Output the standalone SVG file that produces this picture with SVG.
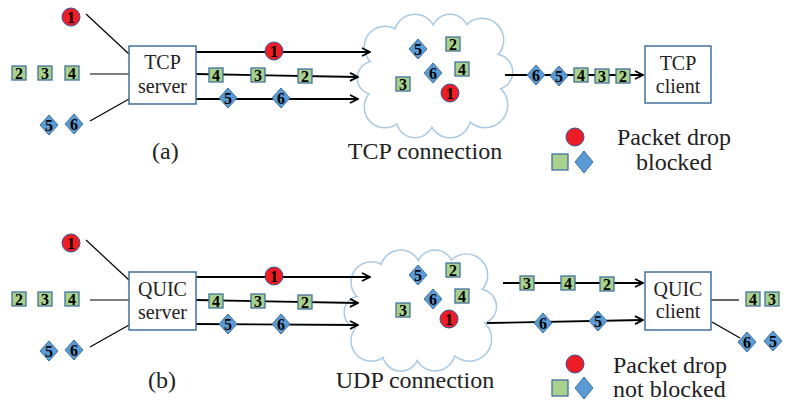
<svg xmlns="http://www.w3.org/2000/svg" xmlns:xlink="http://www.w3.org/1999/xlink" width="786" height="403" viewBox="0 0 786 403">
  <style>
    .box { fill: #ffffff; stroke: #41719c; stroke-width: 1.5; }
    .boxtxt { font-family: "Liberation Serif", "Times New Roman", serif; font-size: 20px; fill: #222; text-anchor: middle; }
    .cap { font-family: "Liberation Serif", "Times New Roman", serif; font-size: 24px; fill: #222; }
    .num { font-family: "Liberation Serif", "Times New Roman", serif; font-size: 16px; font-weight: bold; fill: #000; text-anchor: middle; }
    .sq { fill: #a9d18e; stroke: #41719c; stroke-width: 1.3; }
    .dm { fill: #5b9bd5; stroke: #41719c; stroke-width: 1; }
    .rd { fill: #ee1c25; stroke: #2f5597; stroke-width: 1; }
    .feed { fill: none; stroke: #000; stroke-width: 1.2; }
    .flow-arrow { fill: none; stroke: #000; stroke-width: 1.8; marker-end: url(#open); }
    .cloud-edge { fill: none; stroke: #a9c9e3; stroke-width: 3; }
    .cloud-fill { fill: #ffffff; stroke: none; }
  </style>
  <defs>
    <marker id="open" viewBox="0 0 10 10" refX="9" refY="5" markerWidth="10" markerHeight="10" markerUnits="userSpaceOnUse" orient="auto">
      <path d="M1,1 L9,5 L1,9" fill="none" stroke="#000" stroke-width="1.8"/>
    </marker>
    <rect id="sq" class="sq" x="-7" y="-7" width="14" height="14"/>
    <path id="dm" class="dm" d="M0,-10 L9,0 L0,10 L-9,0 Z"/>
    <circle id="rd" class="rd" r="9"/>
    <!-- overlapping discs whose union forms the cloud outline -->
    <g id="bumps">
      <circle cx="385" cy="47" r="20"/>
      <circle cx="415" cy="35" r="20"/>
      <circle cx="450" cy="33" r="18"/>
      <circle cx="482" cy="40" r="21"/>
      <circle cx="495" cy="72" r="17"/>
      <circle cx="485" cy="105" r="22"/>
      <circle cx="450" cy="117" r="20"/>
      <circle cx="415" cy="119" r="18"/>
      <circle cx="385" cy="107" r="20"/>
      <circle cx="374" cy="78" r="16"/>
      <ellipse cx="436" cy="76" rx="60" ry="48"/>
    </g>
  </defs>

  <!-- clouds -->
  <g id="tcp-cloud">
    <use xlink:href="#bumps" href="#bumps" class="cloud-edge"/>
    <use xlink:href="#bumps" href="#bumps" class="cloud-fill"/>
  </g>
  <g id="udp-cloud" transform="translate(-6,236) scale(0.98)">
    <use xlink:href="#bumps" href="#bumps" class="cloud-edge"/>
    <use xlink:href="#bumps" href="#bumps" class="cloud-fill"/>
  </g>

  <!-- connectors -->
  <g id="connectors">
    <!-- (a) -->
    <line class="feed" x1="86" y1="14" x2="129" y2="54"/>
    <line class="feed" x1="90" y1="74" x2="129" y2="74"/>
    <line class="feed" x1="90" y1="121" x2="129" y2="99"/>
    <line class="flow-arrow" x1="196" y1="52" x2="370" y2="52"/>
    <line class="flow-arrow" x1="196" y1="74" x2="358" y2="77"/>
    <line class="flow-arrow" x1="196" y1="99" x2="358" y2="99"/>
    <line class="flow-arrow" x1="505" y1="75" x2="643" y2="75"/>
    <!-- (b) -->
    <line class="feed" x1="86" y1="240" x2="129" y2="280"/>
    <line class="feed" x1="90" y1="300" x2="129" y2="300"/>
    <line class="feed" x1="90" y1="347" x2="129" y2="325"/>
    <line class="flow-arrow" x1="196" y1="277" x2="370" y2="277"/>
    <line class="flow-arrow" x1="196" y1="300" x2="358" y2="303"/>
    <line class="flow-arrow" x1="196" y1="324" x2="358" y2="325"/>
    <line class="flow-arrow" x1="503" y1="283" x2="643" y2="283"/>
    <line class="flow-arrow" x1="487" y1="323" x2="643" y2="320"/>
    <line class="feed" x1="711" y1="300" x2="739" y2="300"/>
    <line class="feed" x1="712" y1="322" x2="740" y2="338"/>
  </g>

  <!-- endpoints -->
  <g id="tcp-server">
    <rect class="box" x="129" y="46" width="67" height="58"/>
    <text class="boxtxt" x="162.5" y="69">TCP</text>
    <text class="boxtxt" x="162.5" y="93">server</text>
  </g>
  <g id="tcp-client">
    <rect class="box" x="645" y="46" width="66" height="57"/>
    <text class="boxtxt" x="678" y="70">TCP</text>
    <text class="boxtxt" x="678" y="93">client</text>
  </g>
  <g id="quic-server">
    <rect class="box" x="129" y="272" width="67" height="58"/>
    <text class="boxtxt" x="162.5" y="296">QUIC</text>
    <text class="boxtxt" x="162.5" y="319">server</text>
  </g>
  <g id="quic-client">
    <rect class="box" x="645" y="272" width="66" height="58"/>
    <text class="boxtxt" x="678" y="296">QUIC</text>
    <text class="boxtxt" x="678" y="318">client</text>
  </g>

  <!-- packets, (a) -->
  <g id="packets-a">
    <g transform="translate(71,17)"><use href="#rd" xlink:href="#rd"/><text class="num" y="5.5">1</text></g>
    <g transform="translate(19,73)"><use href="#sq" xlink:href="#sq"/><text class="num" y="5.5">2</text></g>
    <g transform="translate(45,73)"><use href="#sq" xlink:href="#sq"/><text class="num" y="5.5">3</text></g>
    <g transform="translate(72,73)"><use href="#sq" xlink:href="#sq"/><text class="num" y="5.5">4</text></g>
    <g transform="translate(49,125)"><use href="#dm" xlink:href="#dm"/><text class="num" y="5.5">5</text></g>
    <g transform="translate(74,124)"><use href="#dm" xlink:href="#dm"/><text class="num" y="5.5">6</text></g>

    <g transform="translate(274,51)"><use href="#rd" xlink:href="#rd"/><text class="num" y="5.5">1</text></g>
    <g transform="translate(216,75)"><use href="#sq" xlink:href="#sq"/><text class="num" y="5.5">4</text></g>
    <g transform="translate(258,75)"><use href="#sq" xlink:href="#sq"/><text class="num" y="5.5">3</text></g>
    <g transform="translate(305,76)"><use href="#sq" xlink:href="#sq"/><text class="num" y="5.5">2</text></g>
    <g transform="translate(228,98)"><use href="#dm" xlink:href="#dm"/><text class="num" y="5.5">5</text></g>
    <g transform="translate(281,98)"><use href="#dm" xlink:href="#dm"/><text class="num" y="5.5">6</text></g>

    <g transform="translate(418,49)"><use href="#dm" xlink:href="#dm"/><text class="num" y="5.5">5</text></g>
    <g transform="translate(453,44)"><use href="#sq" xlink:href="#sq"/><text class="num" y="5.5">2</text></g>
    <g transform="translate(433,73)"><use href="#dm" xlink:href="#dm"/><text class="num" y="5.5">6</text></g>
    <g transform="translate(462,69)"><use href="#sq" xlink:href="#sq"/><text class="num" y="5.5">4</text></g>
    <g transform="translate(403,84)"><use href="#sq" xlink:href="#sq"/><text class="num" y="5.5">3</text></g>
    <g transform="translate(450,93)"><use href="#rd" xlink:href="#rd"/><text class="num" y="5.5">1</text></g>

    <g transform="translate(536,75)"><use href="#dm" xlink:href="#dm"/><text class="num" y="5.5">6</text></g>
    <g transform="translate(559,76)"><use href="#dm" xlink:href="#dm"/><text class="num" y="5.5">5</text></g>
    <g transform="translate(581,75)"><use href="#sq" xlink:href="#sq"/><text class="num" y="5.5">4</text></g>
    <g transform="translate(602,76)"><use href="#sq" xlink:href="#sq"/><text class="num" y="5.5">3</text></g>
    <g transform="translate(623,76)"><use href="#sq" xlink:href="#sq"/><text class="num" y="5.5">2</text></g>
  </g>

  <!-- packets, (b) -->
  <g id="packets-b">
    <g transform="translate(71,243)"><use href="#rd" xlink:href="#rd"/><text class="num" y="5.5">1</text></g>
    <g transform="translate(19,299)"><use href="#sq" xlink:href="#sq"/><text class="num" y="5.5">2</text></g>
    <g transform="translate(45,299)"><use href="#sq" xlink:href="#sq"/><text class="num" y="5.5">3</text></g>
    <g transform="translate(72,299)"><use href="#sq" xlink:href="#sq"/><text class="num" y="5.5">4</text></g>
    <g transform="translate(49,351)"><use href="#dm" xlink:href="#dm"/><text class="num" y="5.5">5</text></g>
    <g transform="translate(74,350)"><use href="#dm" xlink:href="#dm"/><text class="num" y="5.5">6</text></g>

    <g transform="translate(274,276)"><use href="#rd" xlink:href="#rd"/><text class="num" y="5.5">1</text></g>
    <g transform="translate(216,301)"><use href="#sq" xlink:href="#sq"/><text class="num" y="5.5">4</text></g>
    <g transform="translate(258,301)"><use href="#sq" xlink:href="#sq"/><text class="num" y="5.5">3</text></g>
    <g transform="translate(305,302)"><use href="#sq" xlink:href="#sq"/><text class="num" y="5.5">2</text></g>
    <g transform="translate(228,324)"><use href="#dm" xlink:href="#dm"/><text class="num" y="5.5">5</text></g>
    <g transform="translate(281,324)"><use href="#dm" xlink:href="#dm"/><text class="num" y="5.5">6</text></g>

    <g transform="translate(418,275)"><use href="#dm" xlink:href="#dm"/><text class="num" y="5.5">5</text></g>
    <g transform="translate(453,270)"><use href="#sq" xlink:href="#sq"/><text class="num" y="5.5">2</text></g>
    <g transform="translate(433,299)"><use href="#dm" xlink:href="#dm"/><text class="num" y="5.5">6</text></g>
    <g transform="translate(462,296)"><use href="#sq" xlink:href="#sq"/><text class="num" y="5.5">4</text></g>
    <g transform="translate(403,310)"><use href="#sq" xlink:href="#sq"/><text class="num" y="5.5">3</text></g>
    <g transform="translate(449,319)"><use href="#rd" xlink:href="#rd"/><text class="num" y="5.5">1</text></g>

    <g transform="translate(527,283)"><use href="#sq" xlink:href="#sq"/><text class="num" y="5.5">3</text></g>
    <g transform="translate(568,283)"><use href="#sq" xlink:href="#sq"/><text class="num" y="5.5">4</text></g>
    <g transform="translate(607,284)"><use href="#sq" xlink:href="#sq"/><text class="num" y="5.5">2</text></g>
    <g transform="translate(543,323)"><use href="#dm" xlink:href="#dm"/><text class="num" y="5.5">6</text></g>
    <g transform="translate(598,321)"><use href="#dm" xlink:href="#dm"/><text class="num" y="5.5">5</text></g>

    <g transform="translate(753,299)"><use href="#sq" xlink:href="#sq"/><text class="num" y="5.5">4</text></g>
    <g transform="translate(772,299)"><use href="#sq" xlink:href="#sq"/><text class="num" y="5.5">3</text></g>
    <g transform="translate(747,342)"><use href="#dm" xlink:href="#dm"/><text class="num" y="5.5">6</text></g>
    <g transform="translate(773,341)"><use href="#dm" xlink:href="#dm"/><text class="num" y="5.5">5</text></g>
  </g>

  <!-- legends -->
  <g id="legend-a">
    <circle class="rd" cx="575" cy="137" r="9"/>
    <rect class="sq" x="552" y="154" width="16" height="16"/>
    <path class="dm" d="M584,151 L593,162 L584,173 L575,162 Z"/>
    <text class="cap" x="617" y="145">Packet drop</text>
    <text class="cap" x="674" y="170" text-anchor="middle">blocked</text>
  </g>
  <g id="legend-b">
    <circle class="rd" cx="575" cy="364" r="9"/>
    <rect class="sq" x="552" y="380" width="16" height="16"/>
    <path class="dm" d="M584,377 L593,388 L584,399 L575,388 Z"/>
    <text class="cap" x="613" y="373">Packet drop</text>
    <text class="cap" x="613" y="397">not blocked</text>
  </g>

  <!-- captions -->
  <g id="captions">
    <text class="cap" x="152" y="159">(a)</text>
    <text class="cap" x="425" y="159" text-anchor="middle">TCP connection</text>
    <text class="cap" x="148" y="388">(b)</text>
    <text class="cap" x="415" y="388" text-anchor="middle">UDP connection</text>
  </g>
</svg>
